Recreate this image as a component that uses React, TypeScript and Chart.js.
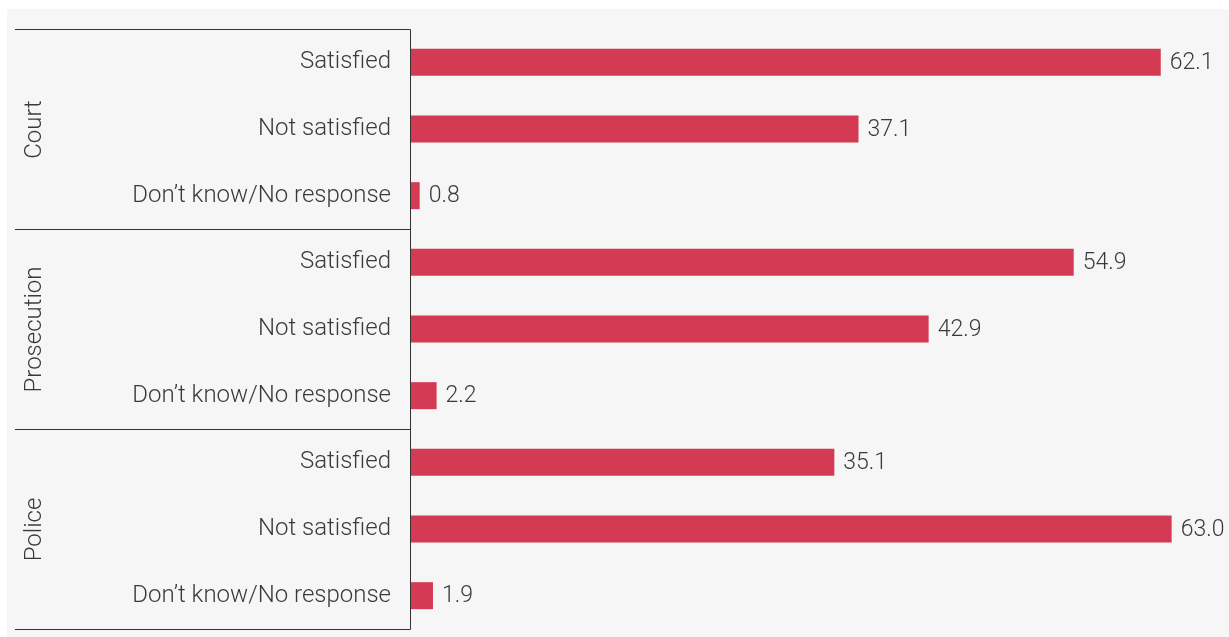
import React, { useEffect, useRef } from "react";
import { Chart, registerables } from "chart.js";

Chart.register(...registerables);

const groups = ["Court", "Prosecution", "Police"];
const responses = ["Satisfied", "Not satisfied", "Don’t know/No response"];
const courtValues = [62.1, 37.1, 0.8];
const prosecutionValues = [54.9, 42.9, 2.2];
const policeValues = [35.1, 63.0, 1.9];

const FONT = "Roboto, 'Noto Sans', sans-serif";
const TEXT = "#3a3a3a";
const BAR = "#d43a53";

export default function App() {
  const ref = useRef<HTMLCanvasElement | null>(null);

  useEffect(() => {
    if (!ref.current) return;
    const labels: string[] = [];
    groups.forEach(() => responses.forEach((r) => labels.push(r)));
    const values = [...courtValues, ...prosecutionValues, ...policeValues];

    const decor = {
      id: "decor",
      afterDraw(chart: any) {
        const ctx = chart.ctx;
        const ys = chart.scales.y;
        const area = chart.chartArea;
        const n = labels.length;
        const bounds: number[] = [];
        for (let g = 0; g <= groups.length; g++) {
          const i = g * responses.length;
          let y: number;
          if (i === 0) y = area.top;
          else if (i >= n) y = area.bottom;
          else y = (ys.getPixelForValue(i - 1) + ys.getPixelForValue(i)) / 2;
          bounds.push(Math.round(y) + 0.5);
        }
        ctx.save();
        ctx.strokeStyle = "#333333";
        ctx.lineWidth = 1;
        const lx = Math.round(area.left) + 0.5;
        bounds.forEach((y) => {
          ctx.beginPath();
          ctx.moveTo(8, y);
          ctx.lineTo(lx, y);
          ctx.stroke();
        });
        ctx.beginPath();
        ctx.moveTo(lx, bounds[0]);
        ctx.lineTo(lx, bounds[bounds.length - 1]);
        ctx.stroke();

        ctx.fillStyle = TEXT;
        ctx.font = `300 24px ${FONT}`;
        ctx.textAlign = "center";
        ctx.textBaseline = "middle";
        groups.forEach((g, k) => {
          const cy = (bounds[k] + bounds[k + 1]) / 2;
          ctx.save();
          ctx.translate(28, cy);
          ctx.rotate(-Math.PI / 2);
          ctx.fillText(g, 0, 0);
          ctx.restore();
        });

        const meta = chart.getDatasetMeta(0);
        ctx.font = `300 23px ${FONT}`;
        ctx.textAlign = "left";
        meta.data.forEach((bar: any, i: number) => {
          ctx.fillText(values[i].toFixed(1), bar.x + 9, bar.y + 1);
        });
        ctx.restore();
      },
    };

    const chart = new Chart(ref.current, {
      type: "bar",
      data: {
        labels,
        datasets: [
          {
            data: values,
            backgroundColor: BAR,
            borderWidth: 0,
            categoryPercentage: 1,
            barPercentage: 0.405,
          },
        ],
      },
      options: {
        indexAxis: "y",
        animation: false,
        responsive: true,
        maintainAspectRatio: false,
        layout: { padding: { top: 20, bottom: 8, left: 0, right: 9 } },
        plugins: { legend: { display: false }, tooltip: { enabled: false } },
        scales: {
          x: { display: false, min: 0, max: 67 },
          y: {
            grid: { display: false, drawTicks: false },
            border: { display: false },
            ticks: {
              padding: 19,
              color: TEXT,
              font: { family: FONT, size: 24, weight: "300" as any },
            },
            afterFit(scale: any) {
              scale.width = 403;
              scale.paddingTop = 0;
              scale.paddingBottom = 0;
            },
          },
        },
      },
      plugins: [decor],
    });
    return () => chart.destroy();
  }, []);

  return (
    <div
      style={{
        position: "absolute",
        left: 7,
        top: 9,
        width: 1222,
        height: 628,
        background: "#f6f6f6",
      }}
    >
      <canvas ref={ref} />
    </div>
  );
}
